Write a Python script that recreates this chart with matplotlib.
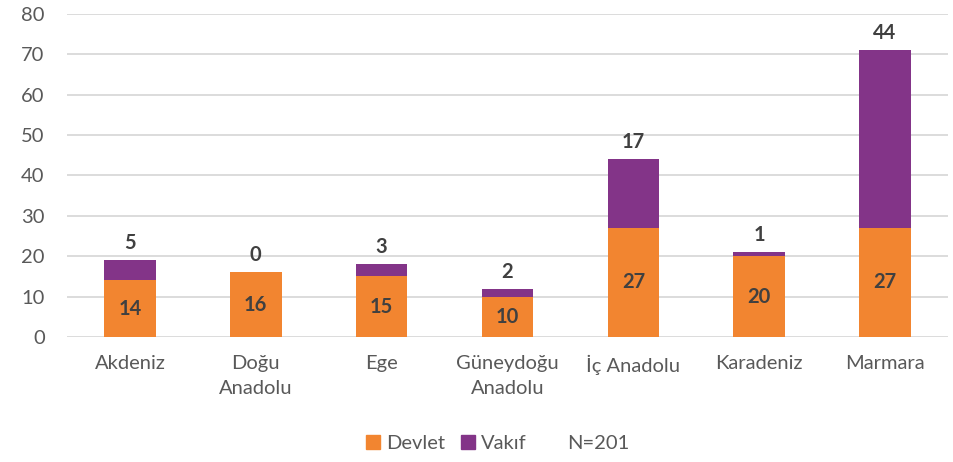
import numpy as np
import matplotlib
matplotlib.use('Agg')
import matplotlib.pyplot as plt
from matplotlib.patches import Patch

plt.rcParams['font.family'] = ['Lato', 'DejaVu Sans']

regions = ['Akdeniz', 'Doğu\nAnadolu', 'Ege', 'Güneydoğu\nAnadolu',
           'İç Anadolu', 'Karadeniz', 'Marmara']
devlet = [14, 16, 15, 10, 27, 20, 27]
vakif = [5, 0, 3, 2, 17, 1, 44]

orange = '#F28530'
purple = '#833488'
label_color = '#404040'
tick_color = '#595959'

fig = plt.figure(figsize=(9.54, 4.62), dpi=100)
ax = fig.add_axes([0.0702, 0.2706, 0.9235, 0.6991])

x = np.arange(len(regions))
w = 0.41
ax.bar(x, devlet, w, color=orange, zorder=3)
ax.bar(x, vakif, w, bottom=devlet, color=purple, zorder=3)

# labels inside orange and on top of purple
for i in range(len(regions)):
    ax.text(x[i], devlet[i] / 2, str(devlet[i]), ha='center', va='center',
            fontsize=14.5, fontweight='bold', color=label_color, zorder=4)
    ax.annotate(str(vakif[i]), (x[i], devlet[i] + vakif[i]), xytext=(0, 5),
                textcoords='offset points', ha='center', va='bottom',
                fontsize=14.5, fontweight='bold', color=label_color)

ax.set_xlim(-0.5, len(regions) - 0.5)
ax.set_ylim(0, 80)
ax.set_yticks(range(0, 81, 10))
ax.yaxis.grid(True, color='#D9D9D9', linewidth=1.3, zorder=0)
ax.set_axisbelow(True)
for s in ax.spines.values():
    s.set_visible(False)
ax.tick_params(axis='both', length=0, labelsize=14.5, labelcolor=tick_color)
ax.tick_params(axis='y', pad=16)
ax.tick_params(axis='x', pad=13)
ax.set_xticks(x)
ax.set_xticklabels(regions, linespacing=1.55)

handles = [Patch(color=orange, label='Devlet'), Patch(color=purple, label='Vakıf')]
leg = fig.legend(handles=handles, loc='center', bbox_to_anchor=(0.468, 0.04),
                 ncol=2, frameon=False, fontsize=14.5, handlelength=0.7,
                 handleheight=0.7, handletextpad=0.3, columnspacing=0.8)
for t in leg.get_texts():
    t.set_color(tick_color)
fig.text(0.627, 0.04, 'N=201', ha='center', va='center', fontsize=14.5,
         color=tick_color)

fig.savefig('out.png', dpi=100)
